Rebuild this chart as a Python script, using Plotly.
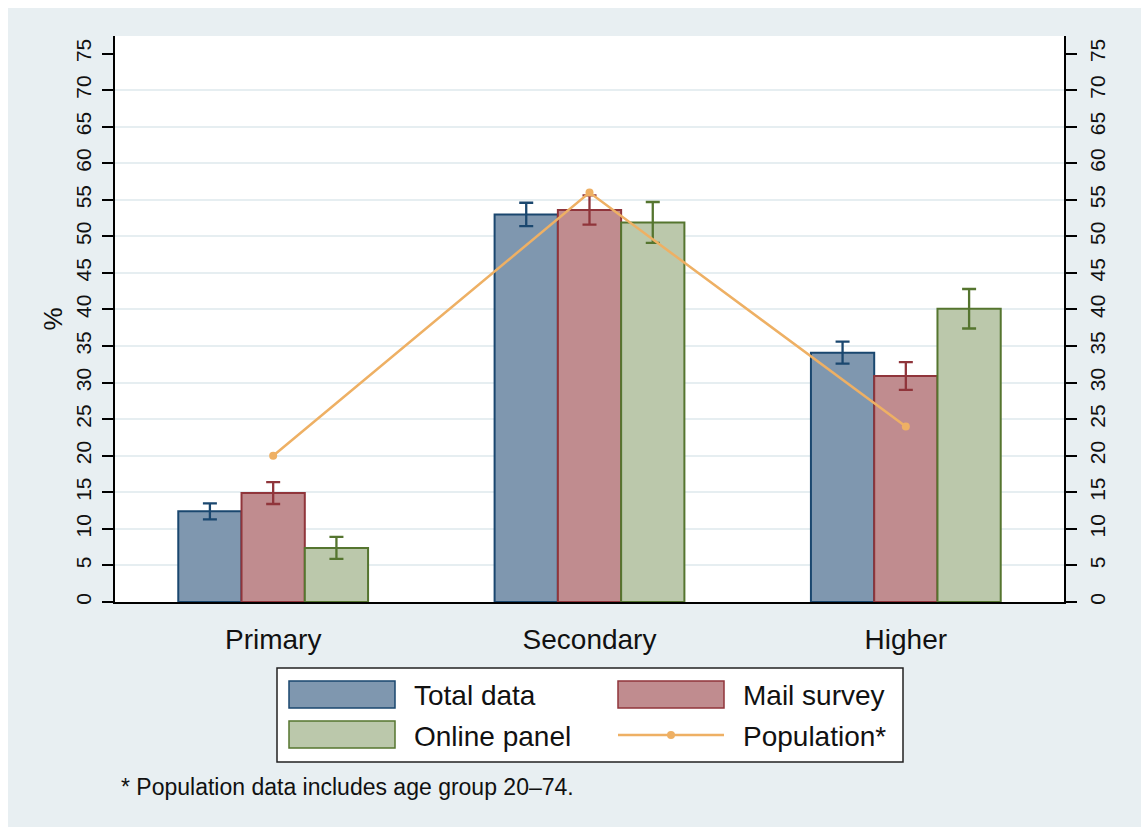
import plotly.graph_objects as go

# Education level shares (%) with 95% confidence half-widths
categories = ["Primary", "Secondary", "Higher"]
total_data = [12.4, 53.0, 34.1]
total_err = [1.1, 1.6, 1.5]
mail_survey = [14.9, 53.6, 30.9]
mail_err = [1.5, 2.0, 1.9]
online_panel = [7.4, 51.9, 40.1]
online_err = [1.5, 2.8, 2.7]
population = [20.0, 56.0, 24.0]

y_ticks = list(range(0, 80, 5))
grid_ticks = list(range(5, 75, 5))

series_names = ["Total data", "Mail survey", "Online panel", "Population*"]
fills = ["#7F97AF", "#C08C8F", "#BBC8AB"]
edges = ["#1A476F", "#90353B", "#55752F"]
pop_color = "#EEB064"

FONT = "Liberation Sans, Arial, sans-serif"
W, H = 1141, 827
ML, MR, MT, MB = 115, 77, 36, 225
PW, PH = W - ML - MR, H - MT - MB


def px(x):
    return (x - ML) / PW


def py(y):
    return (H - MB - y) / PH


fig = go.Figure()
for name, vals, errs, fc, ec in zip(series_names[:3],
                                    [total_data, mail_survey, online_panel],
                                    [total_err, mail_err, online_err],
                                    fills, edges):
    fig.add_trace(go.Bar(
        x=categories, y=vals, name=name,
        marker=dict(color=fc, line=dict(color=ec, width=2)),
        error_y=dict(type="data", array=errs, color=ec, thickness=2.3, width=7),
        showlegend=False,
    ))

fig.add_trace(go.Scatter(
    x=categories, y=population, name=series_names[3],
    mode="lines+markers",
    line=dict(color=pop_color, width=2.5),
    marker=dict(color=pop_color, size=8),
    showlegend=False,
))

# overlay axes: right-hand scale and the light gridlines
fig.add_trace(go.Scatter(x=categories, y=[None] * 3, yaxis="y2",
                         showlegend=False, hoverinfo="skip"))
fig.add_trace(go.Scatter(x=categories, y=[None] * 3, yaxis="y3",
                         showlegend=False, hoverinfo="skip"))

yrange = [0, 77.4]
tick_font = dict(family=FONT, size=21, color="#111")
common_y = dict(range=yrange, tickvals=y_ticks, tickangle=-90,
                ticks="outside", ticklen=11, tickwidth=1.5, tickcolor="black",
                showline=True, linecolor="black", linewidth=1.5,
                showgrid=False, zeroline=False, tickfont=tick_font,
                ticklabelstandoff=3)

fig.update_layout(
    width=W, height=H,
    margin=dict(l=ML, r=MR, t=MT, b=MB),
    paper_bgcolor="#E8EFF2",
    plot_bgcolor="white",
    barmode="group", bargap=0.4, bargroupgap=0,
    showlegend=False,
    xaxis=dict(type="category", showline=True, linecolor="black", linewidth=1.5,
               ticks="", showgrid=False, zeroline=False,
               tickfont=dict(family=FONT, size=28, color="#111"),
               ticklabelstandoff=12),
    yaxis=dict(**common_y, title=dict(text="%", font=dict(family=FONT, size=26, color="#111"),
                                      standoff=2)),
    yaxis2=dict(**common_y, overlaying="y", side="right"),
    yaxis3=dict(range=yrange, overlaying="y", tickvals=grid_ticks, showgrid=True,
                gridcolor="#E6EEF1", gridwidth=2, showticklabels=False, ticks="",
                showline=False, zeroline=False),
)

shapes = []
# white frame strips at top-left of the page
shapes.append(dict(type="rect", xref="paper", yref="paper", x0=px(0), x1=px(W),
                   y0=py(8), y1=py(0), fillcolor="white", line=dict(width=0), layer="below"))
shapes.append(dict(type="rect", xref="paper", yref="paper", x0=px(0), x1=px(8),
                   y0=py(H), y1=py(0), fillcolor="white", line=dict(width=0), layer="below"))

# legend box
shapes.append(dict(type="rect", xref="paper", yref="paper", x0=px(277), x1=px(903),
                   y0=py(762), y1=py(668), fillcolor="white",
                   line=dict(color="#222", width=1.5)))
swatches = [(289, 395, 681, 708), (618, 724, 681, 708), (289, 395, 721, 748)]
for (x0, x1, y0, y1), fc, ec in zip(swatches, fills, edges):
    shapes.append(dict(type="rect", xref="paper", yref="paper", x0=px(x0), x1=px(x1),
                       y0=py(y1), y1=py(y0), fillcolor=fc, line=dict(color=ec, width=1.5)))
shapes.append(dict(type="line", xref="paper", yref="paper", x0=px(618), x1=px(724),
                   y0=py(735), y1=py(735), line=dict(color=pop_color, width=2.5)))
shapes.append(dict(type="circle", xref="paper", yref="paper", x0=px(667), x1=px(675),
                   y0=py(739), y1=py(731), fillcolor=pop_color, line=dict(width=0)))
fig.update_layout(shapes=shapes)

legend_font = dict(family=FONT, size=28, color="#111")
label_pos = [(412, 695), (741, 695), (412, 736), (741, 736)]
annotations = []
for name, (x, y) in zip(series_names, label_pos):
    annotations.append(dict(text=name, x=px(x), y=py(y), xref="paper", yref="paper",
                            xanchor="left", yanchor="middle", showarrow=False,
                            font=legend_font))
annotations.append(dict(text="* Population data includes age group 20\u201374.",
                        x=px(119), y=py(787), xref="paper", yref="paper",
                        xanchor="left", yanchor="middle", showarrow=False,
                        font=dict(family=FONT, size=23, color="#111")))
fig.update_layout(annotations=annotations)

fig.write_html("out.html")
